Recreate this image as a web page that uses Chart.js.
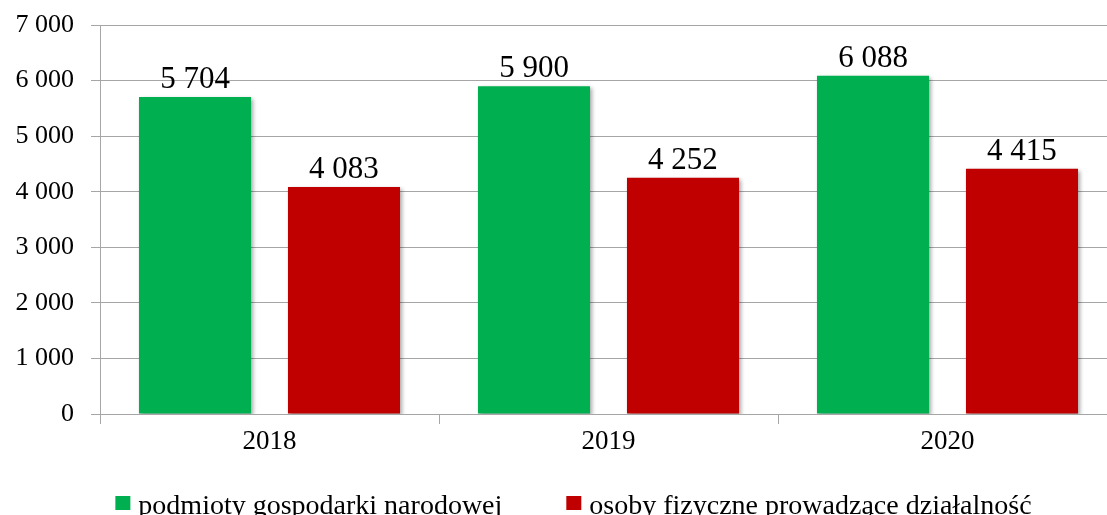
<!DOCTYPE html>
<html>
<head>
<meta charset="utf-8">
<script src="https://cdn.jsdelivr.net/npm/chart.js@4.4.1/dist/chart.umd.min.js"></script>
<style>
  html, body { margin: 0; padding: 0; background: #fff; overflow: hidden; }
  #wrap { position: relative; width: 1120px; height: 515px; }
</style>
</head>
<body>
<div id="wrap"><canvas id="c"></canvas></div>
<script>
const categories = ['2018', '2019', '2020'];
const seriesNames = ['podmioty gospodarki narodowej', 'osoby fizyczne prowadzące działalność'];
const podmioty = [5704, 5900, 6088];
const osoby = [4083, 4252, 4415];
const yTicks = [0, 1000, 2000, 3000, 4000, 5000, 6000, 7000];

const FONT = "'Liberation Serif', 'Times New Roman', serif";
const fmt = v => String(v).replace(/\B(?=(\d{3})+(?!\d))/g, ' ');

const shadowPlugin = {
  id: 'barShadow',
  beforeDatasetsDraw(chart) {
    const ctx = chart.ctx;
    ctx.save();
    ctx.shadowColor = 'rgba(0,0,0,0.35)';
    ctx.shadowBlur = 4;
    ctx.shadowOffsetX = 2;
    ctx.shadowOffsetY = 2;
  },
  afterDatasetsDraw(chart) {
    chart.ctx.restore();
  }
};

const labelPlugin = {
  id: 'valueLabels',
  afterDatasetsDraw(chart) {
    const ctx = chart.ctx;
    ctx.save();
    ctx.font = "31px " + FONT;
    ctx.fillStyle = '#000';
    ctx.textAlign = 'center';
    ctx.textBaseline = 'alphabetic';
    chart.data.datasets.forEach((ds, i) => {
      const meta = chart.getDatasetMeta(i);
      meta.data.forEach((bar, j) => {
        ctx.fillText(fmt(ds.data[j]), bar.x, bar.y - 9);
      });
    });
    ctx.restore();
  }
};

// legend drawn below the axis (the library's built-in legend is disabled)
const legendPlugin = {
  id: 'bottomLegend',
  afterDraw(chart) {
    const ctx = chart.ctx;
    ctx.save();
    ctx.font = "28px " + FONT;
    ctx.textBaseline = 'alphabetic';
    ctx.textAlign = 'left';
    const box = 15, boxGap = 8, itemGap = 64;
    const items = chart.data.datasets.map(ds => ({ text: ds.label, color: ds.backgroundColor, w: ctx.measureText(ds.label).width }));
    let total = 0;
    items.forEach((it, i) => { total += box + boxGap + it.w + (i ? itemGap : 0); });
    let x = 573.5 - total / 2;
    const baseline = 514;
    items.forEach((it, i) => {
      if (i) x += itemGap;
      ctx.fillStyle = it.color;
      ctx.fillRect(x, 496, box, 14);
      x += box + boxGap;
      ctx.fillStyle = '#000';
      ctx.fillText(it.text, x, baseline);
      x += it.w;
    });
    ctx.restore();
  }
};

new Chart(document.getElementById('c'), {
  type: 'bar',
  data: {
    labels: categories,
    datasets: [
      { label: seriesNames[0], data: podmioty, backgroundColor: '#00B050', borderWidth: 0,
        categoryPercentage: 0.879, barPercentage: 0.752 },
      { label: seriesNames[1], data: osoby, backgroundColor: '#C00000', borderWidth: 0,
        categoryPercentage: 0.879, barPercentage: 0.752 }
    ]
  },
  options: {
    responsive: true,
    maintainAspectRatio: false,
    animation: false,
    layout: { padding: { left: 0, right: 3, top: 25, bottom: 41 } },
    plugins: {
      legend: { display: false },
      tooltip: { enabled: false }
    },
    scales: {
      x: {
        grid: { drawOnChartArea: false, drawTicks: true, tickLength: 10, color: '#A6A6A6', offset: true },
        border: { display: true, color: '#A6A6A6' },
        ticks: { font: { family: FONT, size: 27 }, color: '#000', padding: 2 },
        afterFit(scale) { scale.height = 60; }
      },
      y: {
        min: 0, max: 7000,
        afterBuildTicks(scale) { scale.ticks = yTicks.map(v => ({ value: v })); },
        grid: { color: '#A6A6A6', tickLength: 9, drawTicks: true },
        border: { display: true, color: '#A6A6A6' },
        ticks: { font: { family: FONT, size: 26 }, color: '#000', padding: 17, callback: v => fmt(v) },
        afterFit(scale) { scale.width = 100; scale.paddingTop = 0; scale.paddingBottom = 0; }
      }
    }
  },
  plugins: [shadowPlugin, labelPlugin, legendPlugin]
});
</script>
</body>
</html>
